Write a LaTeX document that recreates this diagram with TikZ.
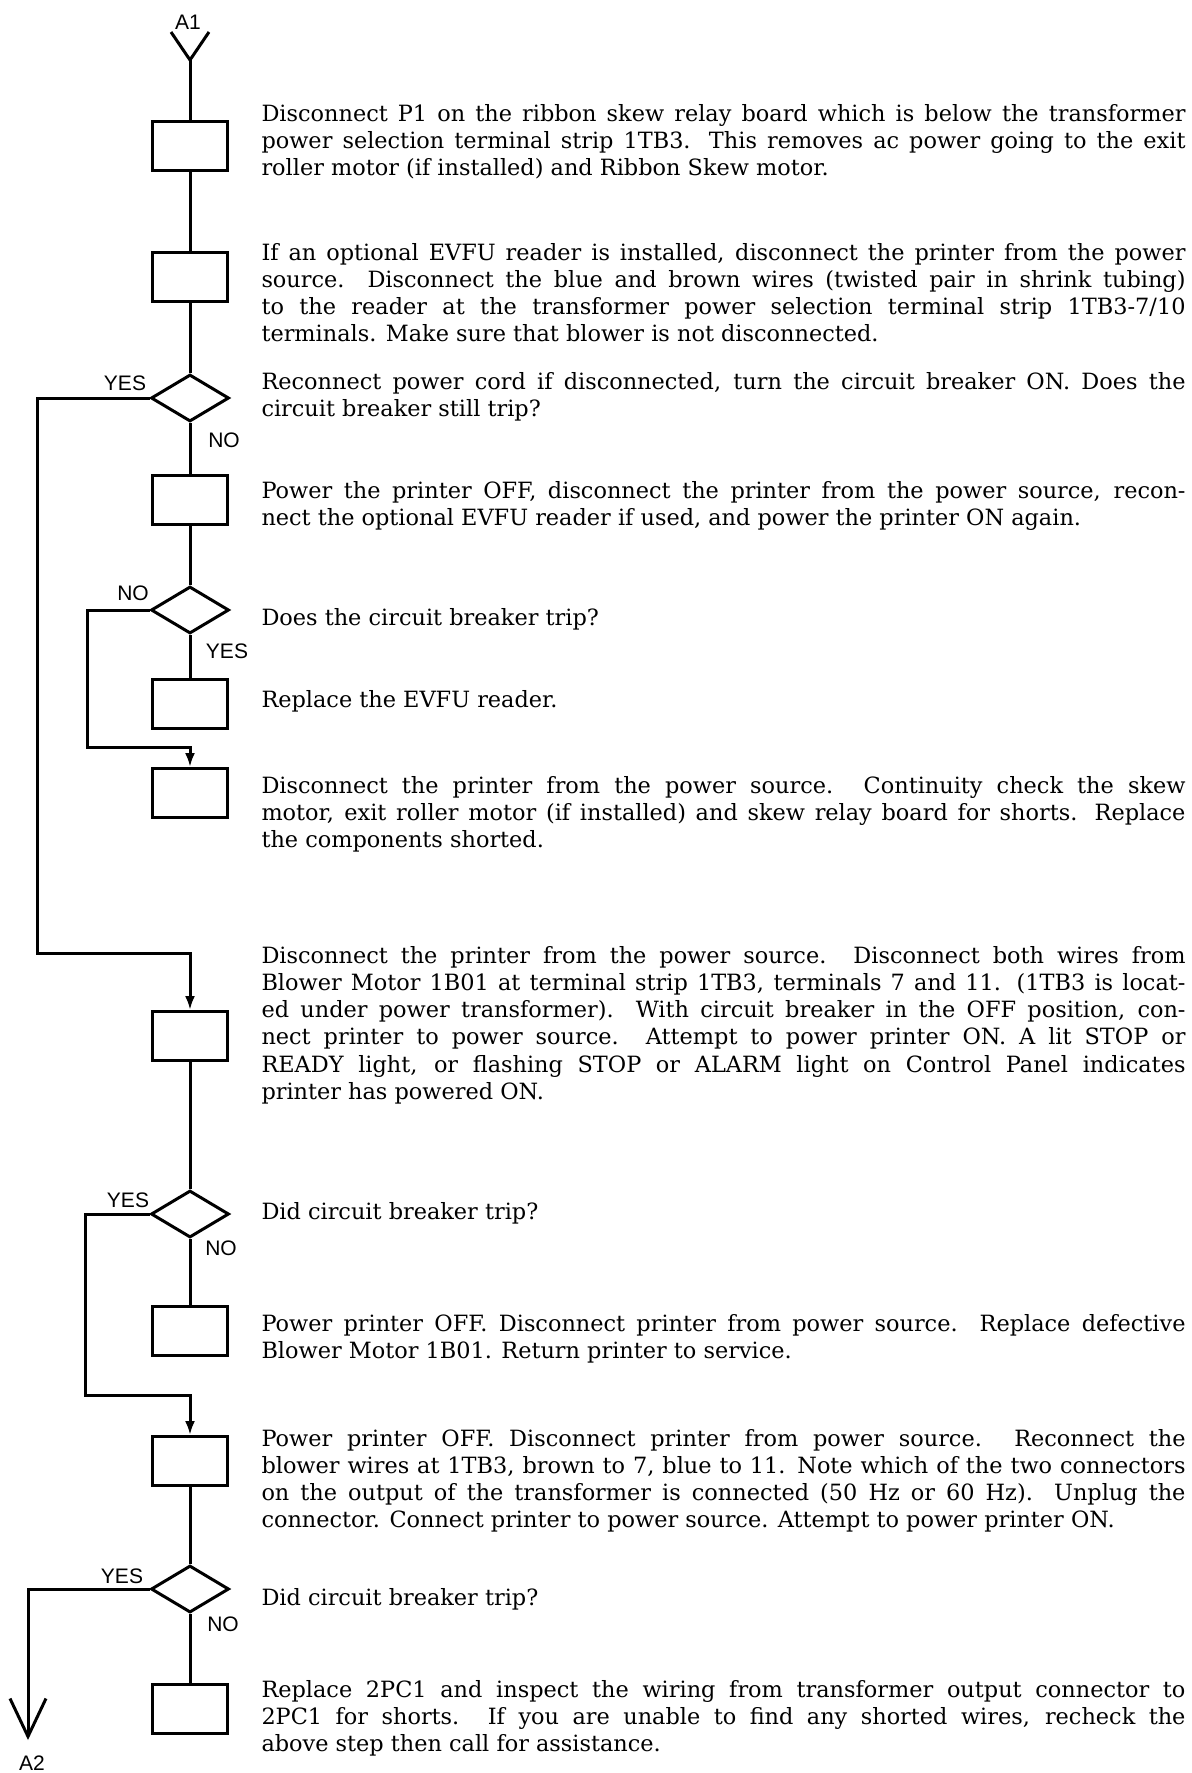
\documentclass[tikz,border=0pt]{standalone}
\usepackage{fontspec}
\setmainfont{DejaVu Serif}
\newfontfamily\labelfont{Liberation Sans}
\usetikzlibrary{arrows.meta, shapes.geometric}
\hyphenpenalty=10000

\begin{document}
\begin{tikzpicture}[
    x=0.5pt, y=-0.5pt,
    line width=1.5pt,
    stepbox/.style={draw, rectangle, minimum width=37.5pt, minimum height=24.5pt, inner sep=0pt},
    test/.style={draw, diamond, minimum width=39pt, minimum height=23.5pt, inner sep=0pt},
    lbl/.style={font=\labelfont\fontsize{10.5pt}{12pt}\selectfont, inner sep=0pt},
    txt/.style={anchor=base west, text width=462pt, align=justify, inner sep=0pt,
        font=\fontsize{11.2pt}{13.65pt}\selectfont},
    >={Latex[length=7pt, width=5pt]}
]
    \useasboundingbox (0,0) rectangle (1191,1773);

    % 节点定义 (流程框与判断框)
    \node[lbl] (a1) at (188,22) {A1};             % 入口
    \coordinate (a1tip) at (190,60);
    \node[stepbox] (b1) at (190,146) {};
    \node[stepbox] (b2) at (190,277) {};
    \node[test] (d1) at (190,398) {};             % 判断 1
    \node[stepbox] (b3) at (190,500) {};
    \node[test] (d2) at (190,610) {};             % 判断 2
    \node[stepbox] (b4) at (190,704) {};
    \node[stepbox] (b5) at (190,793) {};
    \node[stepbox] (b6) at (190,1036) {};
    \node[test] (d3) at (190,1214) {};            % 判断 3
    \node[stepbox] (b7) at (190,1331) {};
    \node[stepbox] (b8) at (190,1461) {};
    \node[test] (d4) at (190,1589) {};            % 判断 4
    \node[stepbox] (b9) at (190,1709) {};
    \coordinate (a2tip) at (28,1740);
    \node[lbl] (a2) at (32,1763) {A2};            % 出口

    % 折线拐点
    \coordinate (j1) at (37,953);
    \coordinate (j2) at (87,747);
    \coordinate (j3) at (85,1395);

    % 分支标签
    \node[lbl] (d1yes) at (125,383) {YES};
    \node[lbl] (d1no) at (224,440) {NO};
    \node[lbl] (d2no) at (133,593) {NO};
    \node[lbl] (d2yes) at (227,651) {YES};
    \node[lbl] (d3yes) at (128,1200) {YES};
    \node[lbl] (d3no) at (221,1248) {NO};
    \node[lbl] (d4yes) at (122,1576) {YES};
    \node[lbl] (d4no) at (223,1624) {NO};

    % 说明文字
    \node[txt] (t1) at (260,121) {Disconnect P1 on the ribbon skew relay board which is below the transformer\linebreak
        power selection terminal strip 1TB3.  This removes ac power going to the exit\linebreak
        roller motor (if installed) and Ribbon Skew motor.};
    \node[txt] (t2) at (260,260) {If an optional EVFU reader is installed, disconnect the printer from the power\linebreak
        source.  Disconnect the blue and brown wires (twisted pair in shrink tubing)\linebreak
        to the reader at the transformer power selection terminal strip 1TB3-7/10\linebreak
        terminals.  Make sure that blower is not disconnected.};
    \node[txt] (t3) at (260,389) {Reconnect power cord if disconnected, turn the circuit breaker ON.  Does the\linebreak
        circuit breaker still trip?};
    \node[txt] (t4) at (260,498) {Power the printer OFF, disconnect the printer from the power source, recon-\linebreak
        nect the optional EVFU reader if used, and power the printer ON again.};
    \node[txt] (t5) at (260,625) {Does the circuit breaker trip?};
    \node[txt] (t6) at (260,707) {Replace the EVFU reader.};
    \node[txt] (t7) at (260,793) {Disconnect the printer from the power source. Continuity check the skew\linebreak
        motor, exit roller motor (if installed) and skew relay board for shorts.  Replace\linebreak
        the components shorted.};
    \node[txt] (t8) at (260,963) {Disconnect the printer from the power source. Disconnect both wires from\linebreak
        Blower Motor 1B01 at terminal strip 1TB3, terminals 7 and 11.  (1TB3 is locat-\linebreak
        ed under power transformer).  With circuit breaker in the OFF position, con-\linebreak
        nect printer to power source.  Attempt to power printer ON.  A lit STOP or\linebreak
        READY light, or flashing STOP or ALARM light on Control Panel indicates\linebreak
        printer has powered ON.};
    \node[txt] (t9) at (260,1219) {Did circuit breaker trip?};
    \node[txt] (t10) at (260,1331) {Power printer OFF.  Disconnect printer from power source.  Replace defective\linebreak
        Blower Motor 1B01.  Return printer to service.};
    \node[txt] (t11) at (260,1446) {Power printer OFF. Disconnect printer from power source. Reconnect the\linebreak
        blower wires at 1TB3, brown to 7, blue to 11.  Note which of the two connectors\linebreak
        on the output of the transformer is connected (50 Hz or 60 Hz).  Unplug the\linebreak
        connector.  Connect printer to power source.  Attempt to power printer ON.};
    \node[txt] (t12) at (260,1605) {Did circuit breaker trip?};
    \node[txt] (t13) at (260,1697) {Replace 2PC1 and inspect the wiring from transformer output connector to\linebreak
        2PC1 for shorts. If you are unable to find any shorted wires, recheck the\linebreak
        above step then call for assistance.};

    % 1. 主干连线
    \draw (a1tip) ++(-19,-28) -- (a1tip) -- ++(19,-28);
    \draw (a1tip) -- (b1);
    \draw (b1) -- (b2);
    \draw (b2) -- (d1);
    \draw (d1) -- (b3);
    \draw (b3) -- (d2);
    \draw (d2) -- (b4);
    \draw (b6) -- (d3);
    \draw (d3) -- (b7);
    \draw (b8) -- (d4);
    \draw (d4) -- (b9);

    % 2. 左侧分支 (带箭头汇入)
    \draw[->] (d1.west) -| (j1) -| (b6.north);
    \draw[->] (d2.west) -| (j2) -| (b5.north);
    \draw[->] (d3.west) -| (j3) -| (b8.north);

    % 3. 通往 A2 的出口
    \draw[-{Straight Barb[length=19pt, width=18pt]}] (d4.west) -| (a2tip);

\end{tikzpicture}
\end{document}
